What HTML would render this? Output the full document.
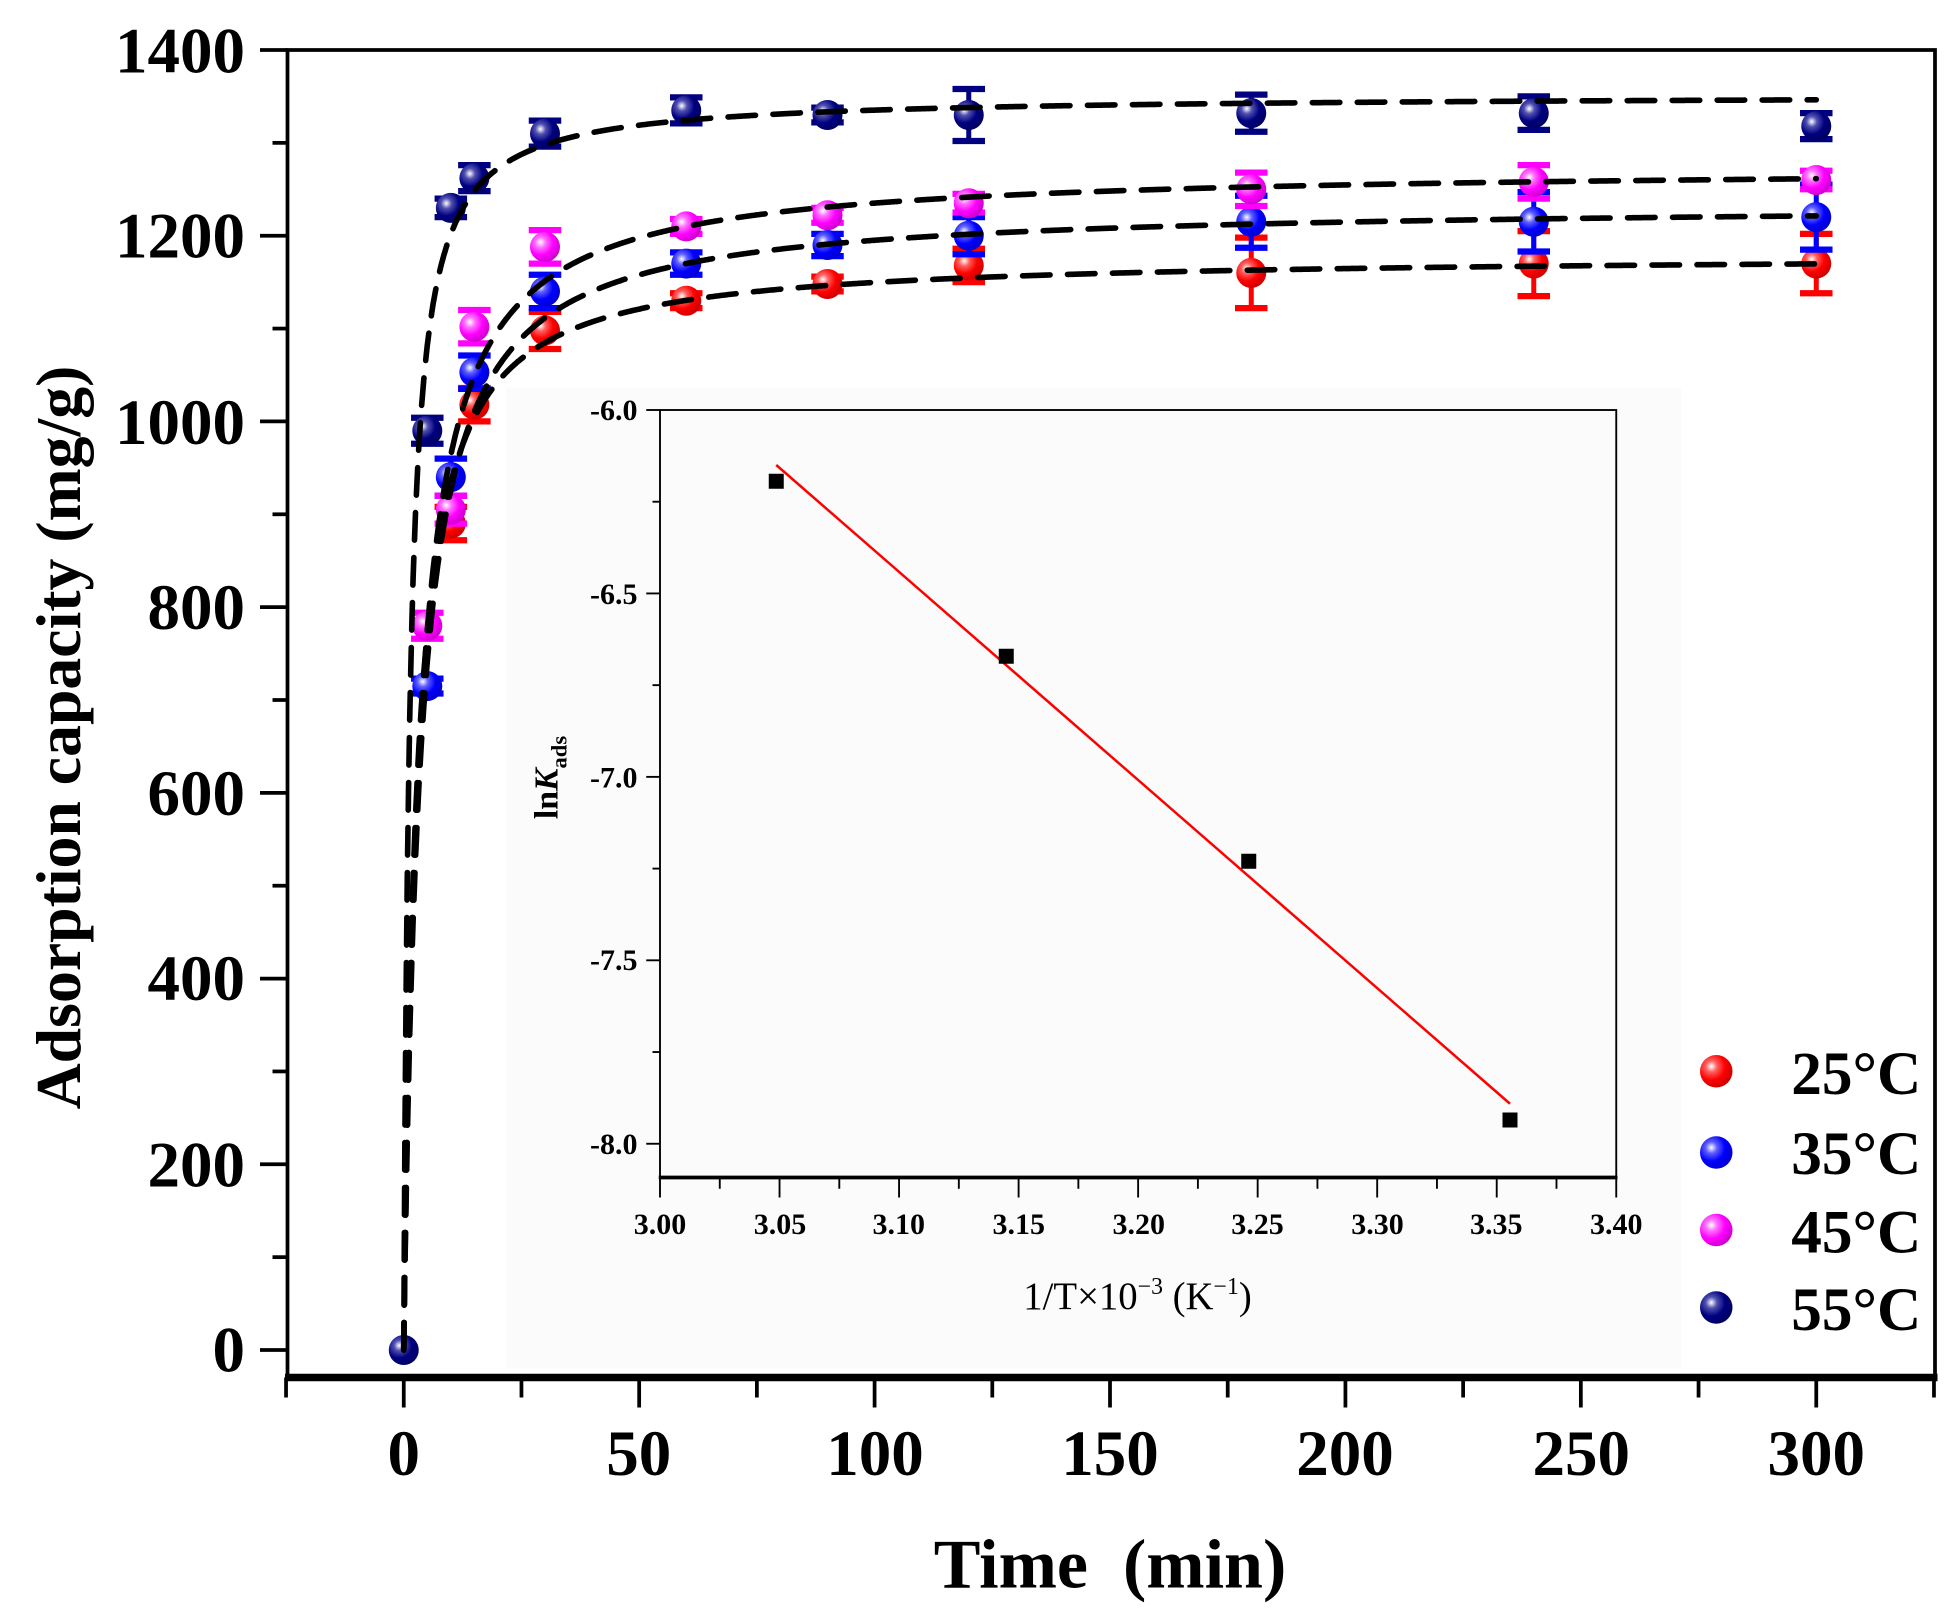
<!DOCTYPE html>
<html><head><meta charset="utf-8">
<style>
html,body{margin:0;padding:0;background:#fff;}
svg{display:block;}
text{font-family:"Liberation Serif",serif;}
</style></head>
<body>
<svg id="s" width="1959" height="1619" viewBox="0 0 1567.2 1295.2" xmlns="http://www.w3.org/2000/svg">
<defs>
<radialGradient id="gr" cx="0.35" cy="0.35" r="0.7"><stop offset="0" stop-color="#fff"/><stop offset="0.25" stop-color="#ff6060"/><stop offset="0.6" stop-color="#f00"/><stop offset="1" stop-color="#c00"/></radialGradient>
<radialGradient id="gb" cx="0.35" cy="0.35" r="0.7"><stop offset="0" stop-color="#fff"/><stop offset="0.25" stop-color="#6060ff"/><stop offset="0.6" stop-color="#00f"/><stop offset="1" stop-color="#00c"/></radialGradient>
<radialGradient id="gm" cx="0.35" cy="0.35" r="0.7"><stop offset="0" stop-color="#fff"/><stop offset="0.25" stop-color="#ff70ff"/><stop offset="0.6" stop-color="#f0f"/><stop offset="1" stop-color="#c0c"/></radialGradient>
<radialGradient id="gn" cx="0.35" cy="0.35" r="0.7"><stop offset="0" stop-color="#fff"/><stop offset="0.25" stop-color="#5050b0"/><stop offset="0.6" stop-color="#000080"/><stop offset="1" stop-color="#000060"/></radialGradient>
</defs>
<rect x="405" y="310" width="940" height="785" fill="#fbfbfb"/>
<g id="main"></g>
<rect x="230" y="40" width="1318" height="1062" fill="none" stroke="#000" stroke-width="3"/>
<line x1="228" y1="1102" x2="1550" y2="1102" stroke="#000" stroke-width="6"/>
<g id="ticks" stroke="#000" stroke-width="3"></g>
<g font-weight="bold" font-size="52" text-anchor="end">
<text x="196" y="1097">0</text><text x="196" y="949">200</text><text x="196" y="800">400</text><text x="196" y="652">600</text><text x="196" y="503">800</text><text x="196" y="355">1000</text><text x="196" y="206">1200</text><text x="196" y="58">1400</text>
</g>
<g font-weight="bold" font-size="52" text-anchor="middle">
<text x="323" y="1180">0</text><text x="511" y="1180">50</text><text x="700" y="1180">100</text><text x="888" y="1180">150</text><text x="1076" y="1180">200</text><text x="1265" y="1180">250</text><text x="1453" y="1180">300</text>
</g>
<text x="888" y="1270" font-weight="bold" font-size="56" text-anchor="middle" xml:space="preserve">Time  (min)</text>
<text transform="translate(64,590) rotate(-90)" font-weight="bold" font-size="51" text-anchor="middle">Adsorption capacity (mg/g)</text>
<rect x="528" y="328" width="765" height="614" fill="none" stroke="#000" stroke-width="1.5"/>
<line x1="527" y1="942" x2="1294" y2="942" stroke="#000" stroke-width="3"/>
<g id="iticks" stroke="#000" stroke-width="1.5"></g>
<g font-weight="bold" font-size="24" text-anchor="end">
<text x="510" y="336">-6.0</text><text x="510" y="483">-6.5</text><text x="510" y="630">-7.0</text><text x="510" y="776">-7.5</text><text x="510" y="923">-8.0</text>
</g>
<g font-weight="bold" font-size="24" text-anchor="middle">
<text x="528" y="987">3.00</text><text x="624" y="987">3.05</text><text x="719" y="987">3.10</text><text x="815" y="987">3.15</text><text x="911" y="987">3.20</text><text x="1006" y="987">3.25</text><text x="1102" y="987">3.30</text><text x="1197" y="987">3.35</text><text x="1293" y="987">3.40</text>
</g>
<text x="910" y="1047" font-size="31" text-anchor="middle">1/T×10<tspan font-size="19" dy="-12">−3</tspan><tspan dy="12"> (K</tspan><tspan font-size="19" dy="-12">−1</tspan><tspan dy="12">)</tspan></text>
<text transform="translate(446,622) rotate(-90)" font-weight="bold" font-size="27" text-anchor="middle">ln<tspan font-style="italic">K</tspan><tspan font-size="18" dy="7">ads</tspan></text>
<line x1="621" y1="372" x2="1208" y2="883" stroke="#f00" stroke-width="2"/>
<g fill="#000">
<rect x="615" y="379" width="12" height="12"/><rect x="799" y="519" width="12" height="12"/><rect x="993" y="683" width="12" height="12"/><rect x="1202" y="890" width="12" height="12"/>
</g>
<circle cx="1373" cy="857" r="13" fill="url(#gr)"/>
<circle cx="1373" cy="922" r="13" fill="url(#gb)"/>
<circle cx="1373" cy="984" r="13" fill="url(#gm)"/>
<circle cx="1373" cy="1046" r="13" fill="url(#gn)"/>
<g font-weight="bold" font-size="49">
<text x="1433" y="875">25°C</text><text x="1433" y="939">35°C</text><text x="1433" y="1002">45°C</text><text x="1433" y="1064">55°C</text>
</g>
</svg>
<script>
var NS="http://www.w3.org/2000/svg";
function el(p,n,a){var e=document.createElementNS(NS,n);for(var k in a)e.setAttribute(k,a[k]);p.appendChild(e);return e;}
var X=function(t){return 323+t*3.7667},Y=function(v){return 1080-v*0.742857};
var tk=document.getElementById('ticks');
for(var v=0;v<=1400;v+=100){var y=Y(v);el(tk,'line',{x1:v%200?218:208,y1:y,x2:230,y2:y});}
for(var t=-25;t<=325;t+=25){var x=X(t);el(tk,'line',{x1:x,y1:1102,x2:x,y2:t%50?1118:1126});}
var it=document.getElementById('iticks');
for(var i=0;i<=8;i++){var v=-6-i*0.25,y=328+(-6-v)*293.5;el(it,'line',{x1:i%2?522:517,y1:y,x2:528,y2:y});}
for(var i=0;i<=16;i++){var x=528+i*0.025*1912.5;el(it,'line',{x1:x,y1:942,x2:x,y2:i%2?951:958});}
var g=document.getElementById('main');
var S=[
 {c:'#f00',f:'gr',qe:1180,h:0.38,d:[[10,890,18],[15,1018,18],[30,1098,20],[60,1130,8],[90,1148,8],[120,1168,18],[180,1160,38],[240,1170,35],[300,1170,32]]},
 {c:'#00f',f:'gb',qe:1235,h:0.30,d:[[5,715,8],[10,940,20],[15,1053,18],[30,1140,18],[60,1170,12],[90,1190,12],[120,1200,20],[180,1215,28],[240,1215,32],[300,1220,35]]},
 {c:'#f0f',f:'gm',qe:1275,h:0.31,d:[[5,780,14],[10,905,15],[15,1102,18],[30,1188,18],[60,1210,8],[90,1222,8],[120,1235,10],[180,1250,18],[240,1258,18],[300,1260,10]]},
 {c:'#000080',f:'gn',qe:1352,h:0.8,d:[[0,0,0],[5,990,14],[10,1230,10],[15,1262,14],[30,1310,14],[60,1335,14],[90,1330,8],[120,1330,28],[180,1332,20],[240,1332,18],[300,1318,14]]}
];
S.forEach(function(s){s.d.forEach(function(p){var x=X(p[0]),y=Y(p[1]),e=p[2]*0.742857;
 if(e>0){el(g,'line',{x1:x,y1:y-e,x2:x,y2:y+e,stroke:s.c,'stroke-width':4});
 el(g,'line',{x1:x-13,y1:y-e,x2:x+13,y2:y-e,stroke:s.c,'stroke-width':5});
 el(g,'line',{x1:x-13,y1:y+e,x2:x+13,y2:y+e,stroke:s.c,'stroke-width':5});}
 el(g,'circle',{cx:x,cy:y,r:12,fill:'url(#'+s.f+')'});});});
S.forEach(function(s){var d='';for(var t=0;t<=300;t+=0.25){var q=s.qe*s.h*t/(1+s.h*t);d+=(t?'L':'M')+X(t).toFixed(1)+' '+Y(q).toFixed(1);}
 el(g,'path',{d:d,fill:'none',stroke:'#000','stroke-width':4.5,'stroke-dasharray':'22 14','stroke-linecap':'round'});});
</script>
</body></html>
